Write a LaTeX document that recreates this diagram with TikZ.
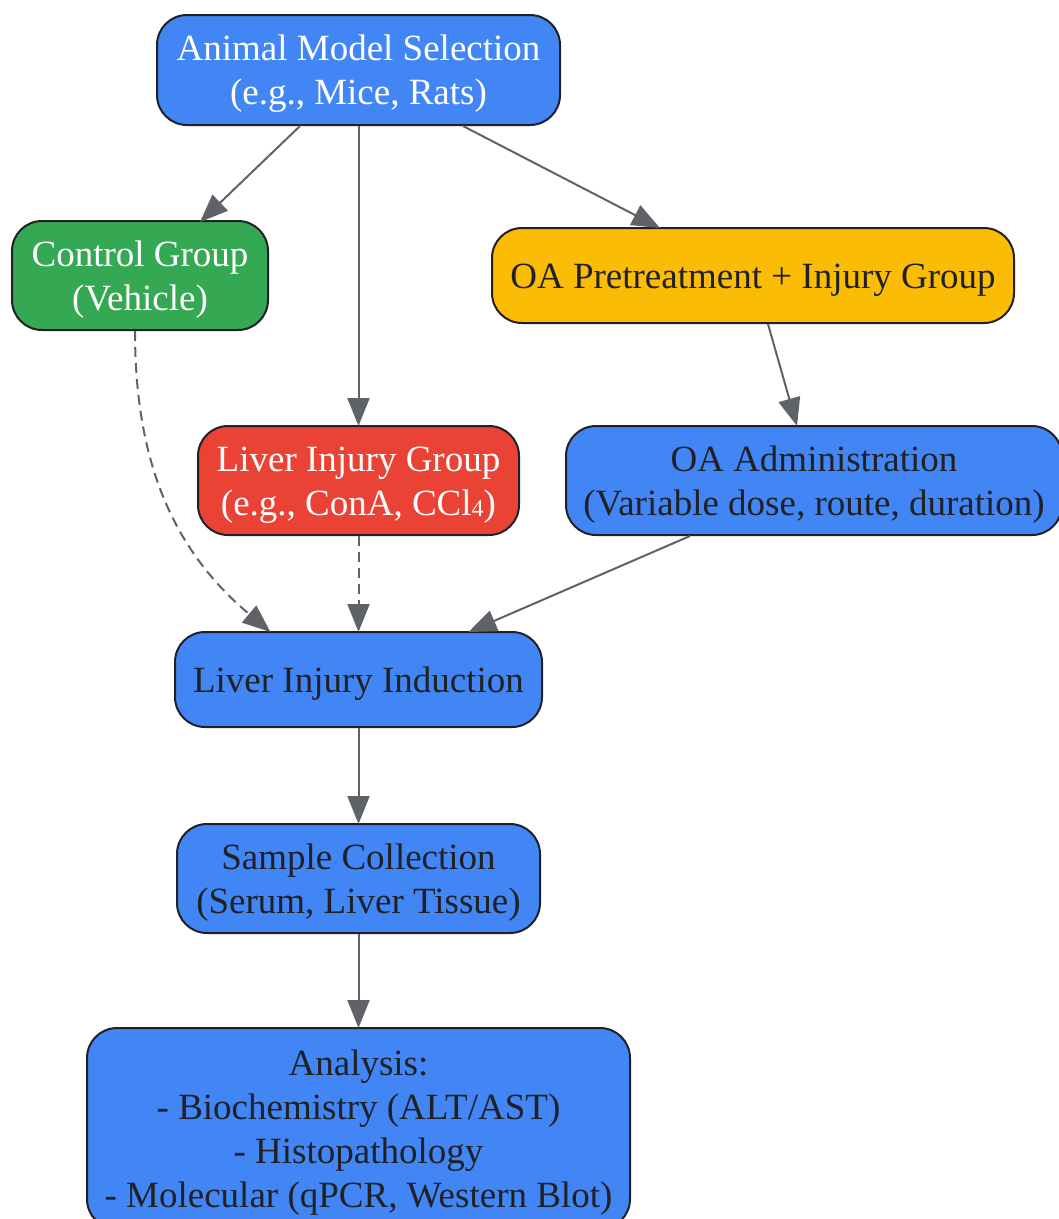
\documentclass[tikz,border=0pt]{standalone}
\usepackage{fontspec}
\setmainfont{Liberation Serif}
\usetikzlibrary{arrows.meta}

\definecolor{gblue}{HTML}{4285F4}
\definecolor{ggreen}{HTML}{34A853}
\definecolor{gyellow}{HTML}{FBBC05}
\definecolor{gred}{HTML}{EA4335}
\definecolor{boxline}{HTML}{202124}
\definecolor{darktext}{HTML}{202124}
\definecolor{edgegray}{HTML}{5F6368}

\begin{document}
\begin{tikzpicture}[x=1pt,y=-1pt,
	box/.style={draw=boxline, line width=2pt, rounded corners=30pt, align=center, inner sep=0pt,
		font=\fontsize{37}{44}\selectfont, text=darktext, fill=gblue, text height=77pt, text depth=8pt},
	oneline/.style={text height=33pt},
	flow/.style={draw=edgegray, line width=2pt, -{Triangle[length=28pt,width=22pt]}},
	dashflow/.style={flow, dash pattern=on 10pt off 6pt},
	]
	\useasboundingbox (0,0) rectangle (1059,1219);

	% Boxes
	\node[box, text=white, minimum width=403pt, minimum height=110pt] (animal) at (358.5,70) {Animal Model Selection\\(e.g., Mice, Rats)};
	\node[box, text=white, fill=ggreen, minimum width=256pt, minimum height=109pt] (control) at (140,275.5) {Control Group\\(Vehicle)};
	\node[box, oneline, fill=gyellow, minimum width=522pt, minimum height=95pt] (oapre) at (753,275.5) {OA Pretreatment + Injury Group};
	\node[box, text=white, fill=gred, minimum width=321pt, minimum height=109pt] (injgroup) at (358.5,480.5) {Liver Injury Group\\(e.g., ConA, CCl\raisebox{-1pt}{\fontsize{24}{24}\selectfont 4})};
	\node[box, minimum width=496pt, minimum height=109pt] (oaadm) at (814,480.5) {OA Administration\\(Variable dose, route, duration)};
	\node[box, oneline, minimum width=367pt, minimum height=95pt] (induct) at (358.5,679.5) {Liver Injury Induction};
	\node[box, minimum width=363pt, minimum height=109pt] (sample) at (358.5,878.5) {Sample Collection\\(Serum, Liver Tissue)};
	\node[box, text height=165pt, minimum width=543pt, minimum height=201pt] (analysis) at (358.5,1128.5) {Analysis:\\- Biochemistry (ALT/AST)\\- Histopathology\\- Molecular (qPCR, Western Blot)};

	% Arrows from the model selection
	\draw[flow] ([xshift=-58.5pt]animal.south) -- ([xshift=60pt,yshift=-2pt]control.north);
	\draw[flow] (animal.south) -- ([yshift=-1pt]injgroup.north);
	\draw[flow] ([xshift=104.5pt]animal.south) -- ([xshift=-93pt,yshift=-1pt]oapre.north);
	\draw[flow] ([xshift=15pt]oapre.south) -- ([xshift=-17pt,yshift=-1pt]oaadm.north);

	% Arrows into the induction
	\draw[dashflow] ([xshift=-5pt]control.south) to[out=-90,in=140] ([xshift=-88pt,yshift=-1pt]induct.north);
	\draw[dashflow] (injgroup.south) -- ([yshift=-1pt]induct.north);
	\draw[flow] ([xshift=-124pt]oaadm.south) -- ([xshift=110pt,yshift=-1pt]induct.north);

	% Down to the analysis
	\draw[flow] (induct.south) -- ([yshift=-1pt]sample.north);
	\draw[flow] (sample.south) -- ([yshift=-1pt]analysis.north);
\end{tikzpicture}
\end{document}
